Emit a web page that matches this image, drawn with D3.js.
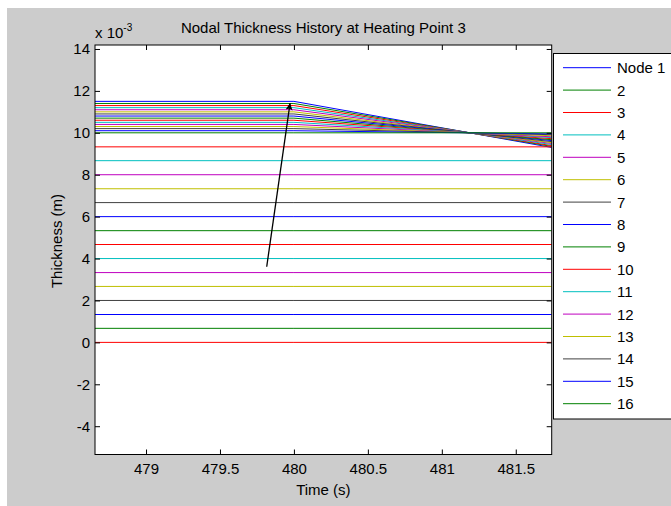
<!DOCTYPE html>
<html>
<head>
<meta charset="utf-8">
<script src="https://cdn.jsdelivr.net/npm/d3@7"></script>
<style>
  body { margin: 0; background: #fff; }
  svg text { font-family: "Liberation Sans", Arial, Helvetica, sans-serif; fill: #000; }
</style>
</head>
<body>
<div id="chart"></div>
<script>
"use strict";

// sample times (s)
const times = [478.655, 480, 481.743];

// upper nodes (x 1e-3 m): value before 480 s and at end of window
const bundleStart = [11.5, 11.4, 11.3, 11.2, 11.1, 11.0, 10.9, 10.8, 10.7, 10.6, 10.5, 10.4, 10.3, 10.2, 10.1, 10.0];
const bundleEnd = [9.30, 9.35, 9.39, 9.44, 9.49, 9.53, 9.58, 9.63, 9.67, 9.72, 9.77, 9.81, 9.86, 9.91, 9.95, 10.0];

// lower nodes stay flat the whole time (x 1e-3 m)
const flatValues = [9.33, 8.67, 8.0, 7.33, 6.67, 6.0, 5.33, 4.67, 4.0, 3.33, 2.67, 2.0, 1.33, 0.67, 0.0];

const legendLabels = ["Node 1", "2", "3", "4", "5", "6", "7", "8", "9", "10", "11", "12", "13", "14", "15", "16"];

const xTicks = [479, 479.5, 480, 480.5, 481, 481.5];
const yTicks = [-4, -2, 0, 2, 4, 6, 8, 10, 12, 14];

// annotation arrow (data coords)
const arrowX = [479.816, 479.974];
const arrowY = [3.61, 11.42];

// matlab default colour order
const lineColors = ["#0000ff", "#008000", "#ff0000", "#00bfbf", "#bf00bf", "#bfbf00", "#404040"];

const width = 671, height = 506;
const plot = { left: 95, top: 45, right: 551.7, bottom: 454.5 };

const series = bundleStart.map((v, i) => [v, v, bundleEnd[i]])
    .concat(flatValues.map(v => [v, v, v]));

const svg = d3.select("#chart")
    .append("svg")
    .attr("width", width)
    .attr("height", height);

// figure background
svg.append("rect")
    .attr("x", 7).attr("y", 8)
    .attr("width", width - 7).attr("height", height - 8)
    .attr("fill", "#cccccc");

const x = d3.scaleLinear()
    .domain([478.655, 481.743])
    .range([plot.left, plot.right]);

const y = d3.scaleLinear()
    .domain([-5.35, 14.19])
    .range([plot.bottom, plot.top]);

svg.append("rect")
    .attr("x", plot.left).attr("y", plot.top)
    .attr("width", plot.right - plot.left)
    .attr("height", plot.bottom - plot.top)
    .attr("fill", "#fff");

svg.append("clipPath").attr("id", "clip")
    .append("rect")
    .attr("x", plot.left).attr("y", plot.top)
    .attr("width", plot.right - plot.left)
    .attr("height", plot.bottom - plot.top);

const line = d3.line()
    .x((d, i) => x(times[i]))
    .y(d => y(d));

svg.append("g")
    .attr("clip-path", "url(#clip)")
    .selectAll("path")
    .data(series)
    .enter()
    .append("path")
    .attr("d", line)
    .attr("fill", "none")
    .attr("stroke", (d, i) => lineColors[i % 7])
    .attr("stroke-width", 1);

// axes - ticks point inward, mirrored on top/right
const fontSize = "15px";

svg.append("g")
    .attr("transform", "translate(0," + plot.bottom + ")")
    .call(d3.axisBottom(x).tickValues(xTicks).tickSizeInner(-5).tickSizeOuter(0).tickPadding(9)
        .tickFormat(d => String(d)));
svg.append("g")
    .attr("transform", "translate(0," + plot.top + ")")
    .call(d3.axisTop(x).tickValues(xTicks).tickSizeInner(-5).tickSizeOuter(0).tickFormat(""));

svg.append("g")
    .attr("transform", "translate(" + plot.left + ",0)")
    .call(d3.axisLeft(y).tickValues(yTicks).tickSizeInner(-5).tickSizeOuter(0).tickPadding(5)
        .tickFormat(d => String(d)));
svg.append("g")
    .attr("transform", "translate(" + plot.right + ",0)")
    .call(d3.axisRight(y).tickValues(yTicks).tickSizeInner(-5).tickSizeOuter(0).tickFormat(""));

svg.selectAll(".domain").remove();
svg.selectAll(".tick line").attr("stroke", "#000");
svg.selectAll(".tick text")
    .style("font-size", fontSize)
    .style("font-family", "'Liberation Sans', Arial, sans-serif");

svg.append("rect")
    .attr("x", plot.left).attr("y", plot.top)
    .attr("width", plot.right - plot.left)
    .attr("height", plot.bottom - plot.top)
    .attr("fill", "none")
    .attr("stroke", "#000");

// arrow annotation
svg.append("defs").append("marker")
    .attr("id", "head")
    .attr("viewBox", "0 0 10 10")
    .attr("refX", 10).attr("refY", 5)
    .attr("markerWidth", 11).attr("markerHeight", 7)
    .attr("markerUnits", "userSpaceOnUse")
    .attr("orient", "auto")
    .append("path")
    .attr("d", "M0,0L10,5L0,10L2,5Z")
    .attr("fill", "#000");

svg.append("line")
    .attr("x1", x(arrowX[0])).attr("y1", y(arrowY[0]))
    .attr("x2", x(arrowX[1])).attr("y2", y(arrowY[1]))
    .attr("stroke", "#000")
    .attr("stroke-width", 1.3)
    .attr("marker-end", "url(#head)");

// titles
svg.append("text")
    .attr("x", (plot.left + plot.right) / 2)
    .attr("y", 33)
    .attr("text-anchor", "middle")
    .style("font-size", fontSize)
    .text("Nodal Thickness History at Heating Point 3");

svg.append("text")
    .attr("x", (plot.left + plot.right) / 2)
    .attr("y", 495)
    .attr("text-anchor", "middle")
    .style("font-size", fontSize)
    .text("Time (s)");

svg.append("text")
    .attr("transform", "translate(62,241) rotate(-90)")
    .attr("text-anchor", "middle")
    .style("font-size", fontSize)
    .text("Thickness (m)");

const expLabel = svg.append("text")
    .attr("x", 95).attr("y", 38)
    .style("font-size", fontSize);
expLabel.append("tspan").text("x 10");
expLabel.append("tspan").attr("dy", -7).style("font-size", "10px").text("-3");

// legend
const legend = svg.append("g");
legend.append("rect")
    .attr("x", 553.5).attr("y", 53.5)
    .attr("width", 140).attr("height", 365.5)
    .attr("fill", "#fff")
    .attr("stroke", "#000");

const entries = legend.selectAll("g.entry")
    .data(legendLabels)
    .enter()
    .append("g")
    .attr("class", "entry")
    .attr("transform", (d, i) => "translate(0," + (67.7 + i * 22.4) + ")");

entries.append("line")
    .attr("x1", 563).attr("x2", 611)
    .attr("stroke", (d, i) => lineColors[i % 7]);

entries.append("text")
    .attr("x", 617).attr("y", 5.5)
    .style("font-size", fontSize)
    .text(d => d);
</script>
</body>
</html>
